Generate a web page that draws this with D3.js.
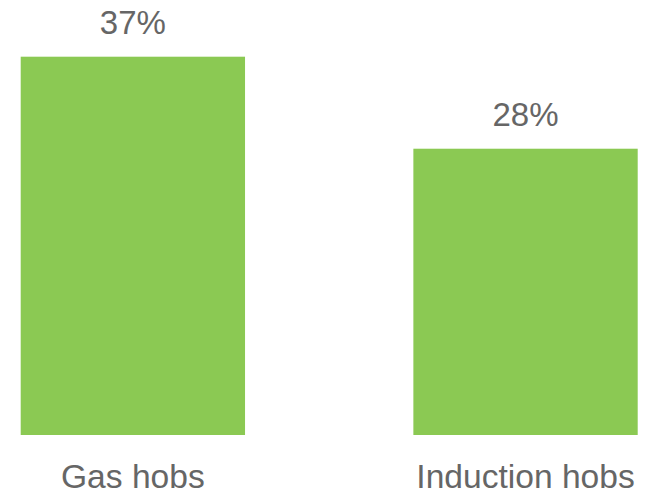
<!DOCTYPE html>
<html>
<head>
<meta charset="utf-8">
<script src="https://cdn.jsdelivr.net/npm/d3@7"></script>
<style>
    body { margin: 0; background: #fff; }
    svg { display: block; }
    text { font-family: "Liberation Sans", Arial, sans-serif; fill: #666666; }
</style>
</head>
<body>
<div id="chart-area"><svg></svg></div>
<script>
const categories = ['Gas hobs', 'Induction hobs'];
const shares = [37, 28];
const valueLabels = ['37%', '28%'];

const chartSize = { width: 648, height: 495 };
const barColor = '#8bc953';

const drawChart = () => {
    const svg = d3.select('#chart-area svg')
        .attr('width', chartSize.width)
        .attr('height', chartSize.height);

    const x = d3.scaleBand()
        .domain(categories)
        .range([20.7, 637.7])
        .paddingInner(0.4287)
        .paddingOuter(0);

    // y(0) sits on the bars' base, 37% reaches y ~ 56.7
    const y = d3.scaleLinear()
        .domain([0, 37])
        .range([435, 56.7]);

    const rows = categories.map((name, i) => ({ name, value: shares[i], label: valueLabels[i] }));

    svg.selectAll('rect')
        .data(rows)
        .enter()
        .append('rect')
        .attr('x', d => x(d.name))
        .attr('y', d => y(d.value))
        .attr('width', x.bandwidth())
        .attr('height', d => y(0) - y(d.value))
        .attr('fill', barColor);

    svg.selectAll('.value-label')
        .data(rows)
        .enter()
        .append('text')
        .attr('class', 'value-label')
        .attr('x', d => x(d.name) + x.bandwidth() / 2)
        .attr('y', d => y(d.value) - 22.5)
        .attr('text-anchor', 'middle')
        .style('font-size', '33px')
        .text(d => d.label);

    const x_axis = d3.axisBottom(x).tickSize(0).tickPadding(0);
    const axis = svg.append('g')
        .attr('class', 'x-axis')
        .attr('transform', `translate(0,${y(0)})`)
        .call(x_axis);

    axis.select('.domain').remove();
    axis.selectAll('text')
        .attr('dy', null)
        .attr('y', 52.5)
        .attr('fill', null)
        .style('font-size', '33.6px')
        .style('font-family', '"Liberation Sans", Arial, sans-serif');
}

window.onload = drawChart;
</script>
</body>
</html>
